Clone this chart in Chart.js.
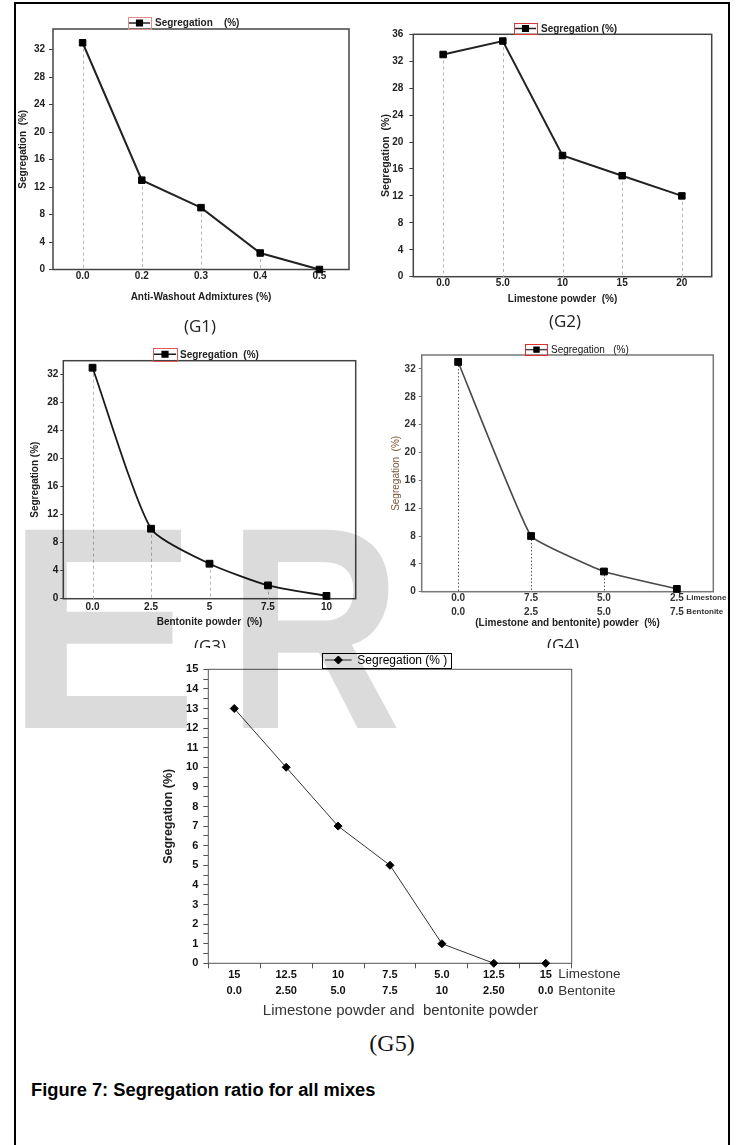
<!DOCTYPE html>
<html><head><meta charset="utf-8">
<script src="https://cdn.jsdelivr.net/npm/chart.js@4.4.1/dist/chart.umd.min.js"></script>
<style>
html,body{margin:0;padding:0;background:#fff;}
#page{position:relative;width:736px;height:1145px;overflow:hidden;background:#fff;font-family:"Liberation Sans",Arial,sans-serif;}
#page canvas{position:absolute;}
.border{position:absolute;left:14px;top:2px;width:712px;height:1300px;border:2px solid #000;border-bottom:none;}
.lbl{position:absolute;transform:translate(-50%,-50%);white-space:nowrap;font-family:"Open Sans","Noto Sans",sans-serif;font-size:17px;color:#222;line-height:1;}
.g5lbl{font-family:"Liberation Serif",serif;font-size:24px;color:#111;}
.caption{position:absolute;left:31px;top:1079px;font-family:"Liberation Sans",Arial,sans-serif;font-weight:bold;font-size:18.3px;color:#000;white-space:nowrap;line-height:22px;}
.wm{position:absolute;font-family:"Liberation Sans",Arial,sans-serif;font-weight:bold;font-size:288px;line-height:288px;color:rgba(0,0,0,0.14);pointer-events:none;white-space:nowrap;}
</style>
</head>
<body>
<div id="page">
  <div class="border"></div>
  <canvas id="c1"></canvas>
  <canvas id="c2"></canvas>
  <canvas id="c3"></canvas>
  <canvas id="c4"></canvas>
  <div class="lbl" style="left:200px;top:325px;">(G1)</div>
  <div class="lbl" style="left:565px;top:320px;">(G2)</div>
  <div class="lbl" style="left:210px;top:645px;">(G3)</div>
  <div class="lbl" style="left:563px;top:644px;">(G4)</div>
  <canvas id="c5"></canvas>
  <div class="lbl g5lbl" style="left:392px;top:1043px;">(G5)</div>
  <div class="caption">Figure 7: Segregation ratio for all mixes</div>
  <div class="wm" style="left:6px;top:484px;">E</div>
  <div class="wm" style="left:227px;top:484px;transform:scaleX(0.84);transform-origin:0 0;">R</div>
</div>
<script>
// ---------- data ----------
const seriesName = 'Segregation (%)';

const g1Labels = ['0.0', '0.2', '0.3', '0.4', '0.5'];
const g1Values = [33, 13, 9, 2.4, 0];

const g2Labels = ['0.0', '5.0', '10', '15', '20'];
const g2Values = [33, 35, 18, 15, 12];

const g3Labels = ['0.0', '2.5', '5', '7.5', '10'];
const g3Values = [33, 10, 5, 1.9, 0.4];

const g4Limestone = ['0.0', '7.5', '5.0', '2.5'];
const g4Bentonite = ['0.0', '2.5', '5.0', '7.5'];
const g4Values = [33, 8, 2.9, 0.4];

const g5Limestone = ['15', '12.5', '10', '7.5', '5.0', '12.5', '15'];
const g5Bentonite = ['0.0', '2.50', '5.0', '7.5', '10', '2.50', '0.0'];
const g5Values = [13, 10, 7, 5, 1, 0, 0];

const sideNames = ['Limestone', 'Bentonite'];

// ---------- plugins ----------
const SANS = '"Liberation Sans", Arial, sans-serif';

function drawMarker(ctx, style, r, x, y, color) {
  ctx.save();
  ctx.fillStyle = color; ctx.strokeStyle = color;
  if (Chart.helpers && Chart.helpers.drawPoint) {
    Chart.helpers.drawPoint(ctx, {pointStyle: style, radius: r, rotation: 0, borderWidth: 1}, x, y);
  } else {
    ctx.beginPath();
    if (style === 'rectRot') { ctx.moveTo(x - r, y); ctx.lineTo(x, y - r); ctx.lineTo(x + r, y); ctx.lineTo(x, y + r); ctx.closePath(); }
    else { const s = r * Math.SQRT1_2; ctx.rect(x - s, y - s, 2 * s, 2 * s); }
    ctx.fill(); ctx.stroke();
  }
  ctx.restore();
}

const segLegend = {
  id: 'segLegend',
  afterDraw(chart, args, o) {
    if (!o || !o.text) return;
    const ctx = chart.ctx;
    const ds = chart.data.datasets[0];
    ctx.save();
    if (o.fill) { ctx.fillStyle = o.fill; ctx.fillRect(o.x, o.y, o.w, o.h); }
    ctx.strokeStyle = o.boxColor; ctx.lineWidth = 1;
    ctx.strokeRect(Math.round(o.x) + 0.5, Math.round(o.y) + 0.5, Math.round(o.w), Math.round(o.h));
    const cy = o.y + o.h / 2;
    ctx.strokeStyle = ds.borderColor; ctx.lineWidth = o.lineW;
    ctx.beginPath(); ctx.moveTo(o.lx1, cy); ctx.lineTo(o.lx2, cy); ctx.stroke();
    drawMarker(ctx, ds.pointStyle, o.mr, (o.lx1 + o.lx2) / 2, cy, ds.pointBackgroundColor);
    ctx.fillStyle = o.color; ctx.textBaseline = 'middle'; ctx.textAlign = 'left';
    ctx.font = o.font;
    ctx.fillText(o.text, o.tx, cy + 0.5);
    ctx.restore();
  }
};

const dropLines = {
  id: 'dropLines',
  beforeDatasetsDraw(chart, args, o) {
    if (!o || !o.color) return;
    const ctx = chart.ctx, bottom = chart.chartArea.bottom;
    const meta = chart.getDatasetMeta(0);
    ctx.save();
    ctx.strokeStyle = o.color; ctx.lineWidth = o.width;
    ctx.setLineDash([o.dashOn, o.dashOff]);
    meta.data.forEach(pt => {
      const x = Math.round(pt.x) + 0.5;
      ctx.beginPath(); ctx.moveTo(x, pt.y); ctx.lineTo(x, bottom); ctx.stroke();
    });
    ctx.restore();
  }
};

const plotFrame = {
  id: 'plotFrame',
  beforeDatasetsDraw(chart, args, o) {
    if (!o || !o.color) return;
    const a = chart.chartArea, ctx = chart.ctx;
    ctx.save();
    ctx.strokeStyle = o.color; ctx.lineWidth = o.width;
    ctx.strokeRect(a.left, a.top, a.right - a.left, a.bottom - a.top);
    ctx.restore();
  }
};

const sideLabels = {
  id: 'sideLabels',
  afterDraw(chart, args, o) {
    if (!o || !o.font) return;
    const ctx = chart.ctx, xs = chart.scales.x;
    const x = xs.getPixelForTick(xs.ticks.length - 1) + o.dx;
    const b = chart.chartArea.bottom;
    ctx.save();
    ctx.font = o.font; ctx.fillStyle = o.color; ctx.textBaseline = 'middle'; ctx.textAlign = 'left';
    ctx.fillText(sideNames[0], x, b + o.dy1);
    ctx.fillText(sideNames[1], x, b + o.dy2);
    ctx.restore();
  }
};

// ---------- builder ----------
function build(id, s) {
  const cv = document.getElementById(id);
  cv.width = s.cw; cv.height = s.ch;
  cv.style.left = s.cx + 'px'; cv.style.top = s.cy + 'px';
  cv.style.width = s.cw + 'px'; cv.style.height = s.ch + 'px';
  if (s.bg) cv.style.background = s.bg;
  const yLH = s.yTitleFont.size * 1.2, xLH = s.xTitleFont.size * 1.2;
  const padL = s.yTitleX - yLH / 2 - s.cx;
  const yW = s.plot.l - s.cx - padL;
  const padT = s.plot.t - s.cy;
  const padR = s.cx + s.cw - s.plot.r;
  const padB = s.cy + s.ch - s.xTitleY - xLH / 2;
  const xH = s.cy + s.ch - padB - s.plot.b;
  const rel = (L) => L ? Object.assign({}, L, {
    x: L.x - s.cx, y: L.y - s.cy, lx1: L.lx1 - s.cx, lx2: L.lx2 - s.cx, tx: L.tx - s.cx
  }) : false;

  const ds = {
    label: seriesName,
    data: s.values,
    borderColor: s.lineColor,
    borderWidth: s.lineWidth,
    pointStyle: s.pointStyle,
    pointRadius: s.pointRadius,
    pointBackgroundColor: s.pointColor,
    pointBorderColor: s.pointColor,
    pointBorderWidth: 1,
    tension: s.tension,
    fill: false,
    clip: false
  };

  return new Chart(cv, {
    type: 'line',
    data: {labels: s.labels, datasets: [ds]},
    options: {
      responsive: false, animation: false, events: [], devicePixelRatio: 1,
      layout: {padding: {left: padL, top: padT, right: padR, bottom: padB}},
      plugins: {
        legend: {display: false}, tooltip: {enabled: false},
        segLegend: rel(s.legend),
        dropLines: s.drop || false,
        plotFrame: s.frame,
        sideLabels: s.side || false
      },
      scales: {
        x: {
          type: 'category', offset: true,
          grid: {display: !!s.xTicks, drawOnChartArea: false, drawTicks: !!s.xTicks, tickLength: 5, offset: true, color: s.frame.color, lineWidth: 1},
          border: {display: false},
          ticks: {font: s.xTickFont || s.tickFont, color: s.tickColor, padding: s.xTickPad, maxRotation: 0, autoSkip: false},
          title: {display: true, text: s.xTitle, font: s.xTitleFont, color: s.xTitleColor || '#222', padding: 0},
          afterFit(sc) { sc.height = xH; }
        },
        y: {
          min: 0, max: s.yMax,
          grid: {drawOnChartArea: false, drawTicks: true, tickLength: s.yTickLen, color: s.frame.color, lineWidth: 1},
          border: {display: false},
          ticks: {stepSize: s.yStep, includeBounds: false, autoSkip: false, font: s.tickFont, color: s.tickColor, padding: s.yTickPad,
                  callback: (v) => (Math.abs(v - Math.round(v)) < 1e-9 ? String(Math.round(v)) : '')},
          title: {display: true, text: s.yTitle, font: s.yTitleFont, color: s.yTitleColor || '#222', padding: 0},
          afterFit(sc) { sc.width = yW; }
        }
      }
    },
    plugins: [plotFrame, dropLines, segLegend, sideLabels]
  });
}

const bold10 = {family: SANS, size: 10, weight: 'bold'};

// G1
build('c1', {
  cx: 0, cy: 0, cw: 365, ch: 310,
  plot: {l: 53, t: 29, r: 349, b: 269.5},
  yTitleX: 23, xTitleY: 297.5,
  labels: g1Labels, values: g1Values, yMax: 35, yStep: 4,
  yTitle: 'Segregation  (%)', xTitle: 'Anti-Washout Admixtures (%)',
  yTitleFont: bold10, xTitleFont: bold10, tickFont: bold10, tickColor: '#222',
  xTickPad: 1, yTickPad: 4, yTickLen: 4,
  lineColor: '#222', lineWidth: 2, pointStyle: 'rect', pointRadius: 4.6, pointColor: '#000', tension: 0,
  frame: {color: '#444', width: 1.5},
  drop: {color: '#b5b5b5', width: 1, dashOn: 3, dashOff: 3},
  legend: {x: 128, y: 17, w: 23, h: 12, boxColor: '#e58a8a', lx1: 129, lx2: 150, lineW: 1.5, mr: 4, tx: 155,
           text: 'Segregation    (%)', font: 'bold 10px ' + SANS, color: '#222'}
});

// G2
build('c2', {
  cx: 365, cy: 0, cw: 365, ch: 310,
  plot: {l: 413.3, t: 34.3, r: 711.7, b: 276.7},
  yTitleX: 385.7, xTitleY: 299.5,
  labels: g2Labels, values: g2Values, yMax: 36, yStep: 4,
  yTitle: 'Segregation  (%)', xTitle: 'Limestone powder  (%)',
  yTitleFont: {family: SANS, size: 10.5, weight: 'bold'}, xTitleFont: bold10, tickFont: bold10, tickColor: '#222',
  xTickPad: 1, yTickPad: 6, yTickLen: 4,
  lineColor: '#222', lineWidth: 2, pointStyle: 'rect', pointRadius: 4.6, pointColor: '#000', tension: 0,
  frame: {color: '#444', width: 1.5},
  drop: {color: '#b5b5b5', width: 1, dashOn: 3, dashOff: 3},
  legend: {x: 514, y: 23, w: 23, h: 11, boxColor: '#d83a3a', lx1: 515, lx2: 536, lineW: 1.5, mr: 4, tx: 541,
           text: 'Segregation (%)', font: 'bold 10px ' + SANS, color: '#222'}
});

// G3
build('c3', {
  cx: 0, cy: 335, cw: 365, ch: 305,
  plot: {l: 63.3, t: 360.7, r: 355.7, b: 598.7},
  yTitleX: 35, xTitleY: 622.3,
  labels: g3Labels, values: g3Values, yMax: 34, yStep: 4,
  yTitle: 'Segregation (%)', xTitle: 'Bentonite powder  (%)',
  yTitleFont: bold10, xTitleFont: bold10, tickFont: bold10, tickColor: '#222',
  xTickPad: 3, yTickPad: 2, yTickLen: 3,
  lineColor: '#1a1a1a', lineWidth: 1.8, pointStyle: 'rect', pointRadius: 4.8, pointColor: '#000', tension: 0.2,
  frame: {color: '#444', width: 1.5},
  drop: {color: '#b5b5b5', width: 1, dashOn: 3, dashOff: 3},
  legend: {x: 153, y: 348, w: 23.7, h: 12.5, boxColor: '#e05a5a', lx1: 154, lx2: 176, lineW: 1.5, mr: 4, tx: 180,
           text: 'Segregation  (%)', font: 'bold 10px ' + SANS, color: '#222'}
});

// G4
build('c4', {
  cx: 365, cy: 335, cw: 365, ch: 305,
  plot: {l: 421.7, t: 355, r: 713.3, b: 591.7},
  yTitleX: 396.7, xTitleY: 623.3,
  labels: g4Limestone.map((v, i) => [v, g4Bentonite[i]]), values: g4Values, yMax: 34, yStep: 4,
  yTitle: 'Segregation  (%)', xTitle: '(Limestone and bentonite) powder  (%)',
  yTitleFont: {family: SANS, size: 10}, xTitleFont: bold10, yTitleColor: '#7a5634',
  tickFont: bold10, xTickFont: {family: SANS, size: 10, weight: 'bold', lineHeight: 1.35}, tickColor: '#333',
  xTickPad: 0, yTickPad: 3, yTickLen: 3,
  lineColor: '#4a4a4a', lineWidth: 1.6, pointStyle: 'rect', pointRadius: 4.8, pointColor: '#000', tension: 0.1,
  frame: {color: '#777', width: 1.5},
  drop: {color: '#555', width: 1, dashOn: 1.5, dashOff: 2},
  legend: {x: 525, y: 344.3, w: 22.3, h: 10.7, boxColor: '#e02e2e', lx1: 526, lx2: 547, lineW: 1.5, mr: 3.5, tx: 551,
           text: 'Segregation   (%)', font: '10px ' + SANS, color: '#111'},
  side: {font: 'bold 8px ' + SANS, color: '#333', dx: 9.5, dy1: 6, dy2: 20}
});

// G5
build('c5', {
  cx: 140, cy: 648, cw: 500, ch: 382, bg: '#fff',
  plot: {l: 208.3, t: 669.3, r: 571.7, b: 963.3},
  yTitleX: 168.3, xTitleY: 1011,
  labels: g5Limestone.map((v, i) => [v, g5Bentonite[i]]), values: g5Values, yMax: 15, yStep: 0.5,
  yTitle: 'Segregation (%)', xTitle: '     Limestone powder and  bentonite powder',
  yTitleFont: {family: SANS, size: 12.5, weight: 'bold'}, xTitleFont: {family: SANS, size: 15}, xTitleColor: '#333',
  tickFont: {family: SANS, size: 11, weight: 'bold'}, xTickFont: {family: SANS, size: 11, weight: 'bold', lineHeight: 1.5},
  tickColor: '#111', xTicks: true,
  xTickPad: -2, yTickPad: 5, yTickLen: 5,
  lineColor: '#333', lineWidth: 1, pointStyle: 'rectRot', pointRadius: 4, pointColor: '#000', tension: 0,
  frame: {color: '#555', width: 1},
  drop: false,
  legend: {x: 322.3, y: 652.7, w: 128.7, h: 14.6, boxColor: '#000', fill: '#fff', lx1: 325, lx2: 351.7, lineW: 1, mr: 4, tx: 357.3,
           text: 'Segregation (% )', font: '12px ' + SANS, color: '#000'},
  side: {font: '13.5px ' + SANS, color: '#333', dx: 12.6, dy1: 11, dy2: 28}
});
</script>
</body></html>
